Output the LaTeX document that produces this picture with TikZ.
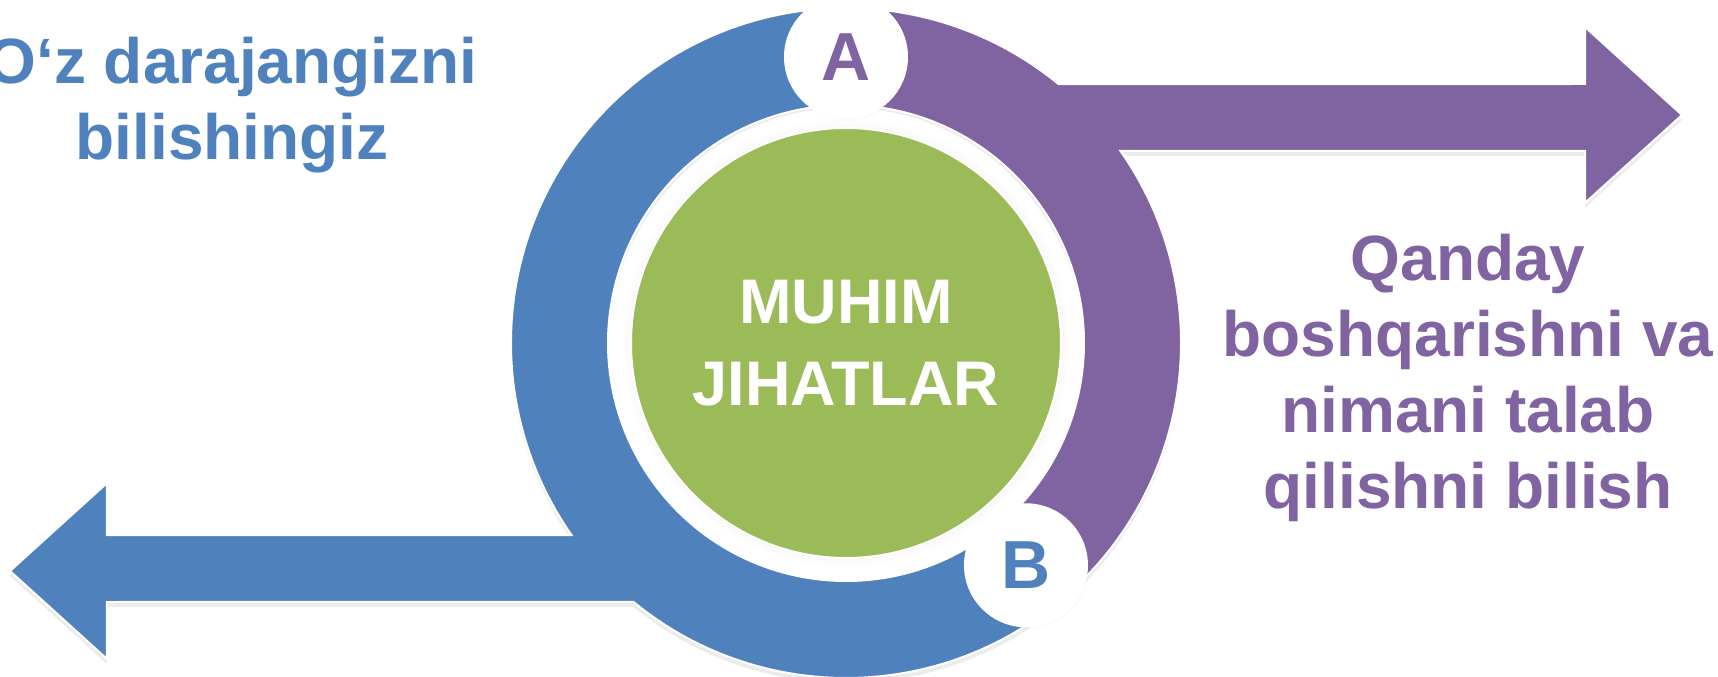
\documentclass[tikz,border=0pt]{standalone}
\usepackage{fontspec}
\setmainfont{Liberation Sans}
\usetikzlibrary{shadows, positioning}
\definecolor{ringblue}{HTML}{4F81BD}
\definecolor{ringpurple}{HTML}{8064A2}
\definecolor{coregreen}{HTML}{9BBB59}

\begin{document}
\begin{tikzpicture}[
  x=1pt, y=1pt,
  band/.style={draw=white, line width=2pt, drop shadow={shadow xshift=0pt, shadow yshift=-5pt, opacity=0.15}},
  blueband/.style={band, fill=ringblue},
  purpleband/.style={band, fill=ringpurple},
  badge/.style={circle, minimum size=122pt, inner sep=0pt, fill=white, draw=white, line width=2pt, font=\fontsize{68}{68}\selectfont\bfseries, circular drop shadow={shadow scale=1.03, opacity=0.12}},
  caption/.style={align=center, font=\fontsize{64}{76}\selectfont\bfseries},
]

  \useasboundingbox (-846,-334) rectangle (872,343);

  % Arrows
  \filldraw[blueband] (90:335) arc[start angle=90, end angle=215, radius=335]
    -- (-739,-192) -- (-739,-140) -- (-836,-228) -- (-739,-316) -- (-739,-259)
    -- (230.6:335) arc[start angle=230.6, end angle=309, radius=335]
    -- (309:238) arc[start angle=309, end angle=90, radius=238] -- cycle;
  \filldraw[purpleband] (90:335) arc[start angle=90, end angle=50.6, radius=335]
    -- (739,259) -- (739,316) -- (836,228) -- (739,140) -- (739,192)
    -- (35:335) arc[start angle=35, end angle=-51, radius=335]
    -- (-51:238) arc[start angle=-51, end angle=90, radius=238] -- cycle;

  % Nodes
  \node[circle, minimum size=470pt, inner sep=0pt, fill=white] (rim) at (0,0) {};
  \node[circle, minimum size=430pt, inner sep=0pt, fill=coregreen, draw=white, line width=2pt,
        circular drop shadow={shadow scale=1.04, shadow xshift=0pt, shadow yshift=0pt, opacity=0.18},
        text=white, align=center, font=\fontsize{63}{82}\selectfont\bfseries] (core) at (0,0) {MUHIM\\JIHATLAR};
  \node[badge, text=ringpurple] (markA) at (90:286) {A};
  \node[badge, text=ringblue] (markB) at (-51:286) {B};

  % Texts
  \node[caption, text=ringblue, anchor=base] (lefttxt) at (-614,183) {O‘z darajangizni\\bilishingiz};
  \node[caption, text=ringpurple, anchor=base] (righttxt) at (622,-165) {Qanday\\boshqarishni va\\nimani talab\\qilishni bilish};

\end{tikzpicture}
\end{document}
